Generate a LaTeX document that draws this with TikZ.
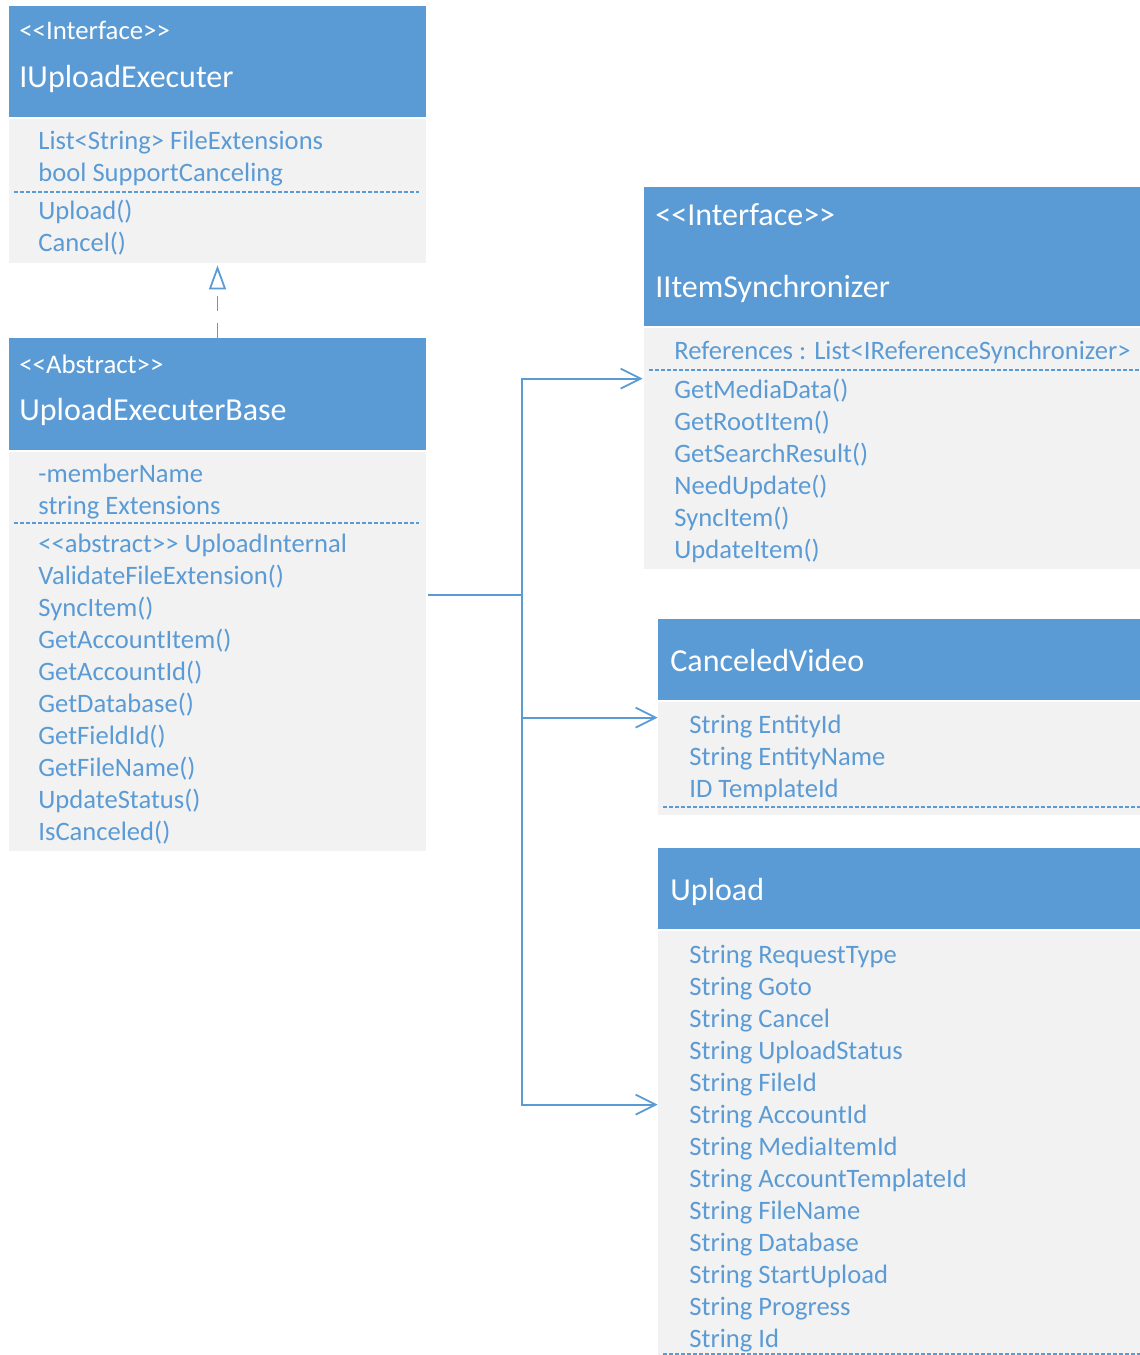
\documentclass[tikz,border=0pt]{standalone}
\usepackage{fontspec}
\setmainfont{Carlito}
\usetikzlibrary{arrows.meta,fit}
\definecolor{headblue}{HTML}{5B9BD5}
\definecolor{bodygray}{HTML}{F2F2F2}
\definecolor{textblue}{HTML}{5B9BD5}
\tikzset{
  clshead/.style={fill=headblue, inner sep=0pt},
  clsbody/.style={fill=bodygray, inner sep=0pt},
  stereo/.style={anchor=base west, inner sep=0pt, text=white, font=\fontsize{13.4}{15}\selectfont},
  bigstereo/.style={stereo, font=\fontsize{16}{18}\selectfont},
  clsname/.style={anchor=base west, inner sep=0pt, text=white, font=\fontsize{16}{18}\selectfont},
  member/.style={anchor=base west, inner sep=0pt, text=textblue, font=\fontsize{13.3}{15}\selectfont},
  sepline/.style={draw=textblue, line width=0.6pt, dash pattern=on 2pt off 1pt},
  assocline/.style={draw=textblue, line width=0.9pt},
  assoc/.style={assocline, -{Straight Barb[length=10pt,width=10pt]}},
  realize/.style={assocline, dash pattern=on 7.5pt off 6pt, -{Triangle[open,length=12pt,width=8.5pt]}},
}
\begin{document}
\begin{tikzpicture}[x=0.5pt,y=-0.5pt]
        % Parámetros
        \def\lh{32}      % Altura de línea de los miembros

        \useasboundingbox (0,0) rectangle (1140,1355);

        % IUploadExecuter
        \node[clshead, fit={(9,6) (426,117)}] (ieHead) {};
        \node[clsbody, fit={(9,119) (426,263)}] (ieBody) {};
        \node[stereo] (ieStereo) at (19,39) {<{}<Interface>{}>};
        \node[clsname] (ieName) at (19,87) {IUploadExecuter};
        \node[member] (ieA1) at (38,149) {List<String> FileExtensions};
        \node[member] (ieA2) at (38,181) {bool SupportCanceling};
        \draw[sepline] (14,192) -- (419,192);
        \node[member] (ieM1) at (38,219) {Upload()};
        \node[member] (ieM2) at (38,251) {Cancel()};

        % UploadExecuterBase
        \node[clshead, fit={(9,338) (426,450)}] (uebHead) {};
        \node[clsbody, fit={(9,452) (426,851)}] (uebBody) {};
        \node[stereo] (uebStereo) at (19,373) {<{}<Abstract>{}>};
        \node[clsname] (uebName) at (19,420) {UploadExecuterBase};
        \node[member] (uebA1) at (38,482) {-memberName};
        \node[member] (uebA2) at (38,514) {string Extensions};
        \draw[sepline] (14,523) -- (419,523);
        \foreach \m [count=\i from 0] in {<{}<abstract>{}> UploadInternal, ValidateFileExtension(),
            SyncItem(), GetAccountItem(), GetAccountId(), GetDatabase(), GetFieldId(),
            GetFileName(), UpdateStatus(), IsCanceled()}
          \node[member] (uebM\i) at (38,{552+\lh*\i}) {\m};

        % IItemSynchronizer
        \node[clshead, fit={(644,187) (1140,326)}] (iisHead) {};
        \node[clsbody, fit={(644,328) (1140,569)}] (iisBody) {};
        \node[bigstereo] (iisStereo) at (655,225) {<{}<Interface>{}>};
        \node[clsname] (iisName) at (655,297) {IItemSynchronizer};
        \node[member] (iisA1) at (674,359) {References : List<IReferenceSynchronizer>};
        \draw[sepline] (649,370) -- (1140,370);
        \foreach \m [count=\i from 0] in {GetMediaData(), GetRootItem(), GetSearchResult(),
            NeedUpdate(), SyncItem(), UpdateItem()}
          \node[member] (iisM\i) at (674,{398+\lh*\i}) {\m};

        % CanceledVideo
        \node[clshead, fit={(658,619) (1140,700)}] (cvHead) {};
        \node[clsbody, fit={(658,702) (1140,815)}] (cvBody) {};
        \node[clsname] (cvName) at (670,671) {CanceledVideo};
        \foreach \m [count=\i from 0] in {String EntityId, String EntityName, ID TemplateId}
          \node[member] (cvA\i) at (689,{733+\lh*\i}) {\m};
        \draw[sepline] (663,807) -- (1140,807);

        % Upload
        \node[clshead, fit={(658,848) (1140,929)}] (upHead) {};
        \node[clsbody, fit={(658,931) (1140,1355)}] (upBody) {};
        \node[clsname] (upName) at (670,900) {Upload};
        \foreach \m [count=\i from 0] in {RequestType, Goto, Cancel, UploadStatus, FileId,
            AccountId, MediaItemId, AccountTemplateId, FileName, Database, StartUpload,
            Progress, Id}
          \node[member] (upA\i) at (689,{963+\lh*\i}) {String \m};
        \draw[sepline] (663,1354) -- (1140,1354);

        % Realización de la interfaz
        \draw[realize] (uebHead.north) -- ([yshift=-1pt]ieBody.south);

        % Asociaciones
        \coordinate (fork) at (522,595);
        \draw[assocline] ([xshift=1pt]uebBody.east |- fork) -- (fork);
        \draw[assoc] (fork) |- ([xshift=-0.5pt,yshift=-25.5pt]iisBody.north west);
        \draw[assoc] (fork) |- ([yshift=-8pt]cvBody.north west);
        \draw[assoc] (fork) |- ([yshift=-87pt]upBody.north west);
    \end{tikzpicture}
\end{document}
